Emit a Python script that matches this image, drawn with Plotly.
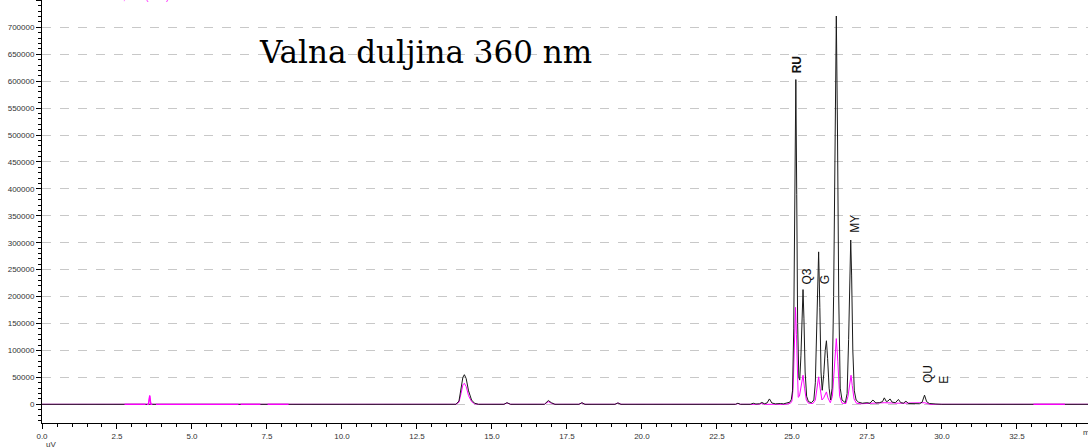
import numpy as np
import plotly.graph_objects as go

# ---- data (time in min, signal in uV) ----
black_time = [0.00, 13.80, 13.90, 13.97, 14.03, 14.08, 14.14, 14.22, 14.32, 14.42, 14.55,
              15.40, 15.50, 15.62, 16.75, 16.88, 16.98, 17.10, 17.90, 18.00, 18.10,
              19.10, 19.20, 19.30, 23.12, 23.20, 23.28, 23.62, 23.71, 23.80, 23.92,
              24.00, 24.08, 24.17, 24.25, 24.33, 24.45, 24.62, 24.72, 24.83, 24.93,
              24.98, 25.02, 25.06, 25.10, 25.13, 25.16, 25.19, 25.23, 25.26, 25.30,
              25.34, 25.37, 25.40, 25.44, 25.49, 25.55, 25.65, 25.73, 25.78, 25.83,
              25.89, 25.93, 25.97, 26.01, 26.06, 26.11, 26.15, 26.19, 26.24, 26.29,
              26.34, 26.39, 26.44, 26.48, 26.52, 26.56, 26.61, 26.67, 26.78, 26.84,
              26.89, 26.93, 26.96, 26.99, 27.03, 27.08, 27.14, 27.22, 27.35, 27.50,
              27.60, 27.70, 27.80, 27.92, 28.02, 28.08, 28.15, 28.20, 28.27, 28.34,
              28.45, 28.55, 28.63, 28.72, 28.80, 28.88, 29.00, 29.25, 29.34, 29.42,
              29.49, 29.58, 29.80, 30.00, 34.87]
black_uv = [0, 0, 6000, 28000, 50000, 55000, 48000, 25000, 8000, 2000, 0,
            0, 3000, 0, 0, 7000, 3000, 0, 0, 3000, 0,
            0, 2500, 0, 0, 2000, 0, 0, 2000, 500, 1000,
            3500, 1000, 2500, 10000, 2500, 800, 1500, 800, 2500, 4000,
            9000, 25000, 140000, 400000, 603000, 390000, 150000, 50000, 45000, 90000,
            170000, 213000, 160000, 60000, 15000, 5000, 3000, 8000, 40000, 170000,
            283000, 180000, 60000, 26000, 55000, 100000, 118000, 85000, 30000, 8000,
            30000, 200000, 500000, 721000, 500000, 200000, 30000, 8000, 3000, 20000,
            120000, 250000, 305000, 240000, 100000, 25000, 8000, 4000, 2000, 3000,
            2000, 8000, 2500, 3000, 5000, 12000, 5000, 6000, 10000, 4000,
            3000, 9000, 3000, 2000, 6000, 1500, 1000, 1000, 4000, 17000,
            5000, 1500, 500, 0, 0]

magenta_time = [0.00, 3.55, 3.59, 3.63, 13.80, 13.90, 13.97, 14.03, 14.08, 14.14, 14.22,
                14.32, 14.42, 14.55, 15.40, 15.50, 15.62, 16.75, 16.88, 16.98, 17.10,
                17.90, 18.00, 18.10, 19.10, 19.20, 19.30, 23.12, 23.20, 23.28, 23.90,
                24.00, 24.10, 24.80, 24.95, 25.00, 25.04, 25.08, 25.12, 25.15, 25.18,
                25.21, 25.25, 25.31, 25.37, 25.42, 25.48, 25.55, 25.70, 25.78, 25.84,
                25.89, 25.94, 26.00, 26.06, 26.12, 26.15, 26.20, 26.28, 26.35, 26.42,
                26.48, 26.53, 26.59, 26.67, 26.80, 26.87, 26.93, 26.97, 27.01, 27.07,
                27.15, 27.30, 27.70, 28.08, 28.55, 29.42, 29.60, 34.87]
magenta_uv = [0, 0, 16000, 0, 0, 4000, 20000, 36000, 39000, 33000, 16000,
              5000, 1000, 0, 0, 2500, 0, 0, 5000, 2000, 0,
              0, 2500, 0, 0, 2500, 0, 0, 1500, 0, 0,
              1500, 0, 0, 2000, 6000, 30000, 120000, 180000, 130000, 50000,
              13000, 15000, 35000, 54000, 30000, 8000, 2000, 1500, 8000, 35000,
              51000, 30000, 8000, 12000, 22000, 23000, 12000, 3000, 15000, 80000,
              122000, 80000, 15000, 2000, 1500, 15000, 45000, 54000, 35000, 10000,
              2000, 1000, 2000, 3000, 2000, 3000, 0, 0]

# stretches where the magenta trace is drawn above the black one
magenta_top_ranges = [(2.75, 3.45), (3.50, 3.68), (3.80, 6.55), (6.62, 7.28),
                      (7.52, 8.22), (33.05, 34.10)]

peak_labels = ["RU", "Q3", "G", "MY", "QU", "E"]
label_time = [25.18, 25.50, 26.13, 27.10, 29.53, 30.06]
label_uv = [630000, 237000, 232000, 335000, 56000, 45000]
label_bold = [True, False, False, False, False, False]

title_text = "Valna duljina 360 nm"
channel_text = "PDA Multi 1 360nm,4nm (1.00)"

# ---- figure ----
fig = go.Figure()

fig.add_trace(go.Scatter(x=magenta_time, y=magenta_uv, mode="lines",
                         line=dict(color="#ff00ff", width=1), hoverinfo="skip"))
fig.add_trace(go.Scatter(x=black_time, y=black_uv, mode="lines",
                         line=dict(color="#1a1a1a", width=1), hoverinfo="skip"))

mt = np.array(magenta_time)
mv = np.array(magenta_uv)
ox, oy = [], []
for a, b in magenta_top_ranges:
    inside = mt[(mt > a) & (mt < b)]
    xs = [a] + list(inside) + [b]
    ox += xs + [None]
    oy += list(np.interp(xs, mt, mv)) + [None]
fig.add_trace(go.Scatter(x=ox, y=oy, mode="lines",
                         line=dict(color="#ff00ff", width=1.3), hoverinfo="skip"))

for txt, t, v, bold in zip(peak_labels, label_time, label_uv, label_bold):
    fig.add_annotation(x=t, y=v, xref="x", yref="y", text=f"<b>{txt}</b>" if bold else txt,
                       textangle=-90, showarrow=False, xanchor="center", yanchor="middle",
                       font=dict(family="Liberation Sans, Arial", size=12, color="#111"))

fig.add_annotation(x=12.77, y=655000, xref="x", yref="y", text=title_text, showarrow=False,
                   xanchor="center", yanchor="middle",
                   font=dict(family="DejaVu Serif", size=31, color="black"))

fig.add_annotation(x=0.0, y=1.0, xref="paper", yref="paper", text=channel_text,
                   showarrow=False, xanchor="left", yanchor="bottom", yshift=-4, xshift=2,
                   font=dict(family="Liberation Sans, Arial", size=9, color="#ff00ff"))

fig.add_annotation(x=0.993, y=0, xref="paper", yref="paper", text="min", showarrow=False,
                   xanchor="left", yanchor="top", yshift=-3,
                   font=dict(family="Liberation Sans, Arial", size=8, color="#333"))
fig.add_annotation(x=0.002, y=0, xref="paper", yref="paper", text="uV", showarrow=False,
                   xanchor="left", yanchor="top", yshift=-15,
                   font=dict(family="Liberation Sans, Arial", size=8, color="#333"))

fig.update_layout(
    width=1088, height=447,
    margin=dict(l=42, r=0, t=0, b=24),
    paper_bgcolor="white", plot_bgcolor="white",
    showlegend=False,
    xaxis=dict(range=[0, 34.87], dtick=2.5, tick0=0, tickformat=".1f",
               showgrid=False, zeroline=False, automargin=False,
               showline=True, linecolor="black", linewidth=1,
               ticks="outside", ticklen=5, tickcolor="black",
               minor=dict(dtick=0.5, ticks="outside", ticklen=3, tickcolor="black"),
               tickfont=dict(family="Liberation Sans, Arial", size=8, color="#333")),
    yaxis=dict(range=[-34700, 750700], dtick=50000, tick0=0,
               showgrid=True, gridcolor="#c8c8c8", griddash="dash", gridwidth=1,
               zeroline=False, showline=True, linecolor="black", linewidth=1,
               automargin=False,
               ticks="outside", ticklen=5, tickcolor="black",
               minor=dict(dtick=10000, ticks="outside", ticklen=3, tickcolor="black",
                          showgrid=False),
               tickformat="d",
               tickfont=dict(family="Liberation Sans, Arial", size=8, color="#333")),
)

fig.write_html("out.html", config={"displayModeBar": False},
               post_script="document.body.style.margin='0';document.body.style.overflow='hidden';")
